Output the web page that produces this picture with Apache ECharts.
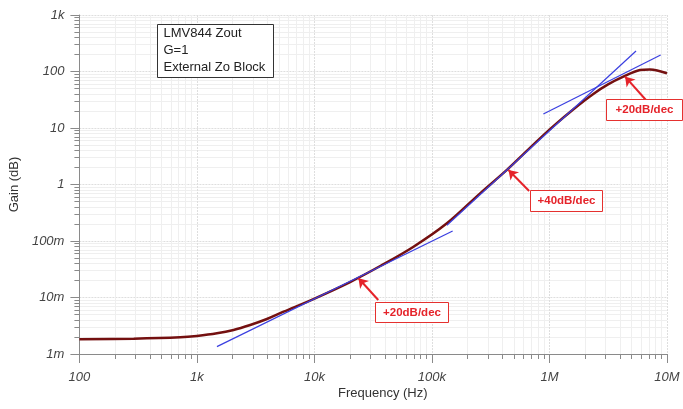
<!DOCTYPE html>
<html>
<head>
<meta charset="utf-8">
<script src="https://cdn.jsdelivr.net/npm/echarts@6/dist/echarts.min.js"></script>
<style>
  html, body { margin: 0; padding: 0; background: #fff; }
  #main { width: 683px; height: 409px; }
</style>
</head>
<body>
<div id="main"></div>
<script>
// frequency (Hz) and output impedance
var freq = [100, 290, 722, 1000, 1480, 2050, 2840, 3940, 5460, 9800, 20100, 36300, 69700,
            134000, 257000, 434000, 780000, 1080000, 1600000, 2360000, 3150000, 4250000,
            5890000, 7160000, 10000000];
var zout = [0.00182, 0.00187, 0.00198, 0.00209, 0.00232, 0.00266, 0.00326, 0.00416, 0.00561,
            0.0094, 0.0188, 0.0361, 0.0793, 0.206, 0.698, 1.81, 5.8, 10.8, 21.5, 40, 59,
            80.9, 106, 109, 93];

// slope guide lines (start / end points)
var guide20lo = [[1480, 0.00135], [150000, 0.150]];
var guide40 = [[134000, 0.19], [5450000, 231]];
var guide20hi = [[887000, 17.7], [8830000, 196]];

// annotation arrows: [tail, tip]
var arrows = [
  [[34900, 0.00904], [23700, 0.0219]],
  [[671000, 0.767], [448000, 1.81]],
  [[6620000, 31.3], [4400000, 80.9]]
];
var notes = ['+20dB/dec', '+40dB/dec', '+20dB/dec'];

var xTickLabels = ['100', '1k', '10k', '100k', '1M', '10M'];
var yTickLabels = ['1m', '10m', '100m', '1', '10', '100', '1k'];
var infoLines = ['LMV844 Zout', 'G=1', 'External Zo Block'];

var chart = echarts.init(document.getElementById('main'));

var curve = freq.map(function (f, i) { return [f, zout[i]]; });
var font = 'Liberation Sans';

var guideSeries = function (pts) {
  return {
    type: 'line',
    data: pts,
    symbol: 'none',
    z: 4,
    lineStyle: { color: '#3a3fe0', width: 1.2 }
  };
};

var arrowLines = arrows.map(function (a) {
  return [{ coord: a[0] }, { coord: a[1] }];
});

// boxed red slope note
var noteBox = function (x, y, w, h, text) {
  return {
    type: 'group',
    left: x, top: y, z: 100,
    children: [
      { type: 'rect', z: 100, shape: { x: 0, y: 0, width: w, height: h },
        style: { fill: '#fff', stroke: '#e5312f', lineWidth: 1 } },
      { type: 'text', z: 101, x: w / 2, y: h / 2,
        style: { text: text, fill: '#e5232a', font: 'bold 11.5px ' + font,
                 align: 'center', verticalAlign: 'middle' } }
    ]
  };
};

chart.setOption({
  animation: false,
  grid: { left: 79, right: 16, top: 15, bottom: 55 },
  xAxis: {
    type: 'log',
    logBase: 10,
    min: 100,
    max: 10000000,
    axisLine: { lineStyle: { color: '#8a8a8a' } },
    axisTick: { length: 9, lineStyle: { color: '#8a8a8a' } },
    minorTick: { show: true, splitNumber: 9, length: 5, lineStyle: { color: '#8a8a8a' } },
    splitLine: { lineStyle: { color: '#dedede', type: [2, 1] } },
    minorSplitLine: { show: true, lineStyle: { color: '#efefef' } },
    axisLabel: {
      margin: 17, color: '#444', fontStyle: 'italic', fontSize: 13, fontFamily: font,
      formatter: function (v) { return xTickLabels[Math.round(Math.log10(v)) - 2]; }
    }
  },
  yAxis: {
    type: 'log',
    logBase: 10,
    min: 0.001,
    max: 1000,
    name: 'Gain (dB)',
    nameLocation: 'middle',
    nameGap: 52,
    nameTextStyle: { color: '#333', fontSize: 13, fontFamily: font },
    axisLine: { show: true, lineStyle: { color: '#8a8a8a' } },
    axisTick: { show: true, length: 9, lineStyle: { color: '#8a8a8a' } },
    minorTick: { show: true, splitNumber: 9, length: 5, lineStyle: { color: '#8a8a8a' } },
    splitLine: { lineStyle: { color: '#dedede', type: [2, 1] } },
    minorSplitLine: { show: true, lineStyle: { color: '#efefef' } },
    axisLabel: {
      margin: 15, color: '#444', fontStyle: 'italic', fontSize: 13, fontFamily: font,
      formatter: function (v) { return yTickLabels[Math.round(Math.log10(v)) + 3]; }
    }
  },
  series: [
    {
      type: 'line',
      data: curve,
      symbol: 'none',
      smooth: 0.35,
      z: 3,
      lineStyle: { color: '#741010', width: 2.5 },
      markLine: {
        silent: true,
        symbol: ['none', 'arrow'],
        symbolSize: 9,
        label: { show: false },
        lineStyle: { color: '#e5232a', width: 2, type: 'solid' },
        data: arrowLines
      }
    },
    guideSeries(guide20lo),
    guideSeries(guide40),
    guideSeries(guide20hi)
  ],
  graphic: [
    {
      type: 'group', left: 157, top: 24, z: 100,
      children: [
        { type: 'rect', z: 100, shape: { x: 0, y: 0, width: 116, height: 53 },
          style: { fill: '#fff', stroke: '#333', lineWidth: 1 } }
      ].concat(infoLines.map(function (t, i) {
        return { type: 'text', z: 101, x: 6, y: 9 + i * 17,
                 style: { text: t, fill: '#222', font: '13px ' + font, verticalAlign: 'middle' } };
      }))
    },
    noteBox(375, 302, 73, 20, notes[0]),
    noteBox(530, 190, 72, 21, notes[1]),
    noteBox(606, 99, 76, 21, notes[2]),
    {
      type: 'text', left: 338, top: 387, z: 100,
      style: { text: 'Frequency (Hz)', fill: '#333', font: '13px ' + font }
    }
  ]
});
</script>
</body>
</html>
